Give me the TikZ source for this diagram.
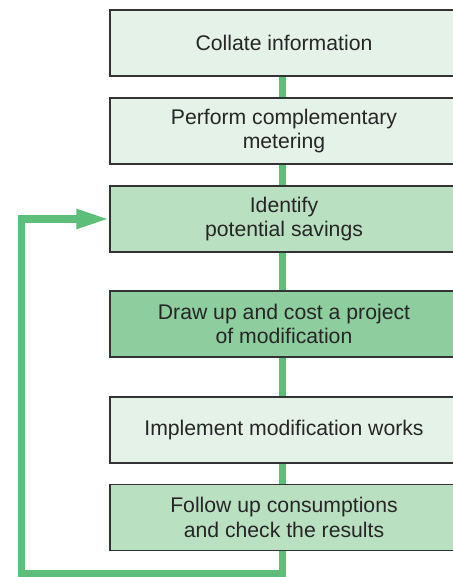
\documentclass[tikz,border=0pt]{standalone}
\usepackage{fontspec}
\setmainfont{Liberation Sans}
\usetikzlibrary{arrows.meta}

\definecolor{paleGreen}{HTML}{E4F2E7}
\definecolor{midGreen}{HTML}{BAE0C2}
\definecolor{darkGreen}{HTML}{8DCD9E}
\definecolor{flowGreen}{HTML}{5CBE78}
\definecolor{edgeGray}{HTML}{333333}

\tikzset{
    stepbox/.style={draw=edgeGray, line width=0.6pt, rectangle,
        minimum width=174pt, minimum height=33pt, inner sep=0pt,
        align=center, text=black!85,
        font=\fontsize{10.6pt}{12.3pt}\selectfont},
    flow/.style={draw=flowGreen, line width=3.75pt, line join=miter}
}

\begin{document}
\begin{tikzpicture}[x=0.5pt, y=-0.5pt]

    % Frame of the page
    \useasboundingbox (0, 0) rectangle (453, 577);

    % Column and loop positions
    \def\xbox{284}
    \def\xmid{282.5}
    \def\xloop{21.5}
    \def\yloop{573.5}

    % Connectors
    \coordinate (loopB) at (\xmid, \yloop);
    \coordinate (loopL) at (\xloop, \yloop);

    % Boxes of the procedure (they run past the right edge)
    \node[stepbox, fill=paleGreen] (collate) at (\xbox, 43) {Collate information};
    \node[stepbox, fill=paleGreen] (metering) at (\xbox, 131) {Perform complementary\\metering};
    \node[stepbox, fill=midGreen] (savings) at (\xbox, 219) {Identify\\potential savings};
    \node[stepbox, fill=darkGreen] (project) at (\xbox, 324) {Draw up and cost a project\\of modification};
    \node[stepbox, fill=paleGreen] (works) at (\xbox, 430) {Implement modification works};
    \node[stepbox, fill=midGreen] (results) at (\xbox, 517.5) {Follow up consumptions\\and check the results};

    % Links between the boxes
    \draw[flow] (collate.south -| loopB) -- (metering.north -| loopB);
    \draw[flow] (metering.south -| loopB) -- (savings.north -| loopB);
    \draw[flow] (savings.south -| loopB) -- (project.north -| loopB);
    \draw[flow] (project.south -| loopB) -- (works.north -| loopB);
    \draw[flow] (works.south -| loopB) -- (results.north -| loopB);

    % Feedback loop back to the savings
    \draw[flow, -{Triangle[length=16.5pt, width=9pt]}]
        (results.south -| loopB) -- (loopB) -- (loopL) |- (savings.west);

\end{tikzpicture}
\end{document}
